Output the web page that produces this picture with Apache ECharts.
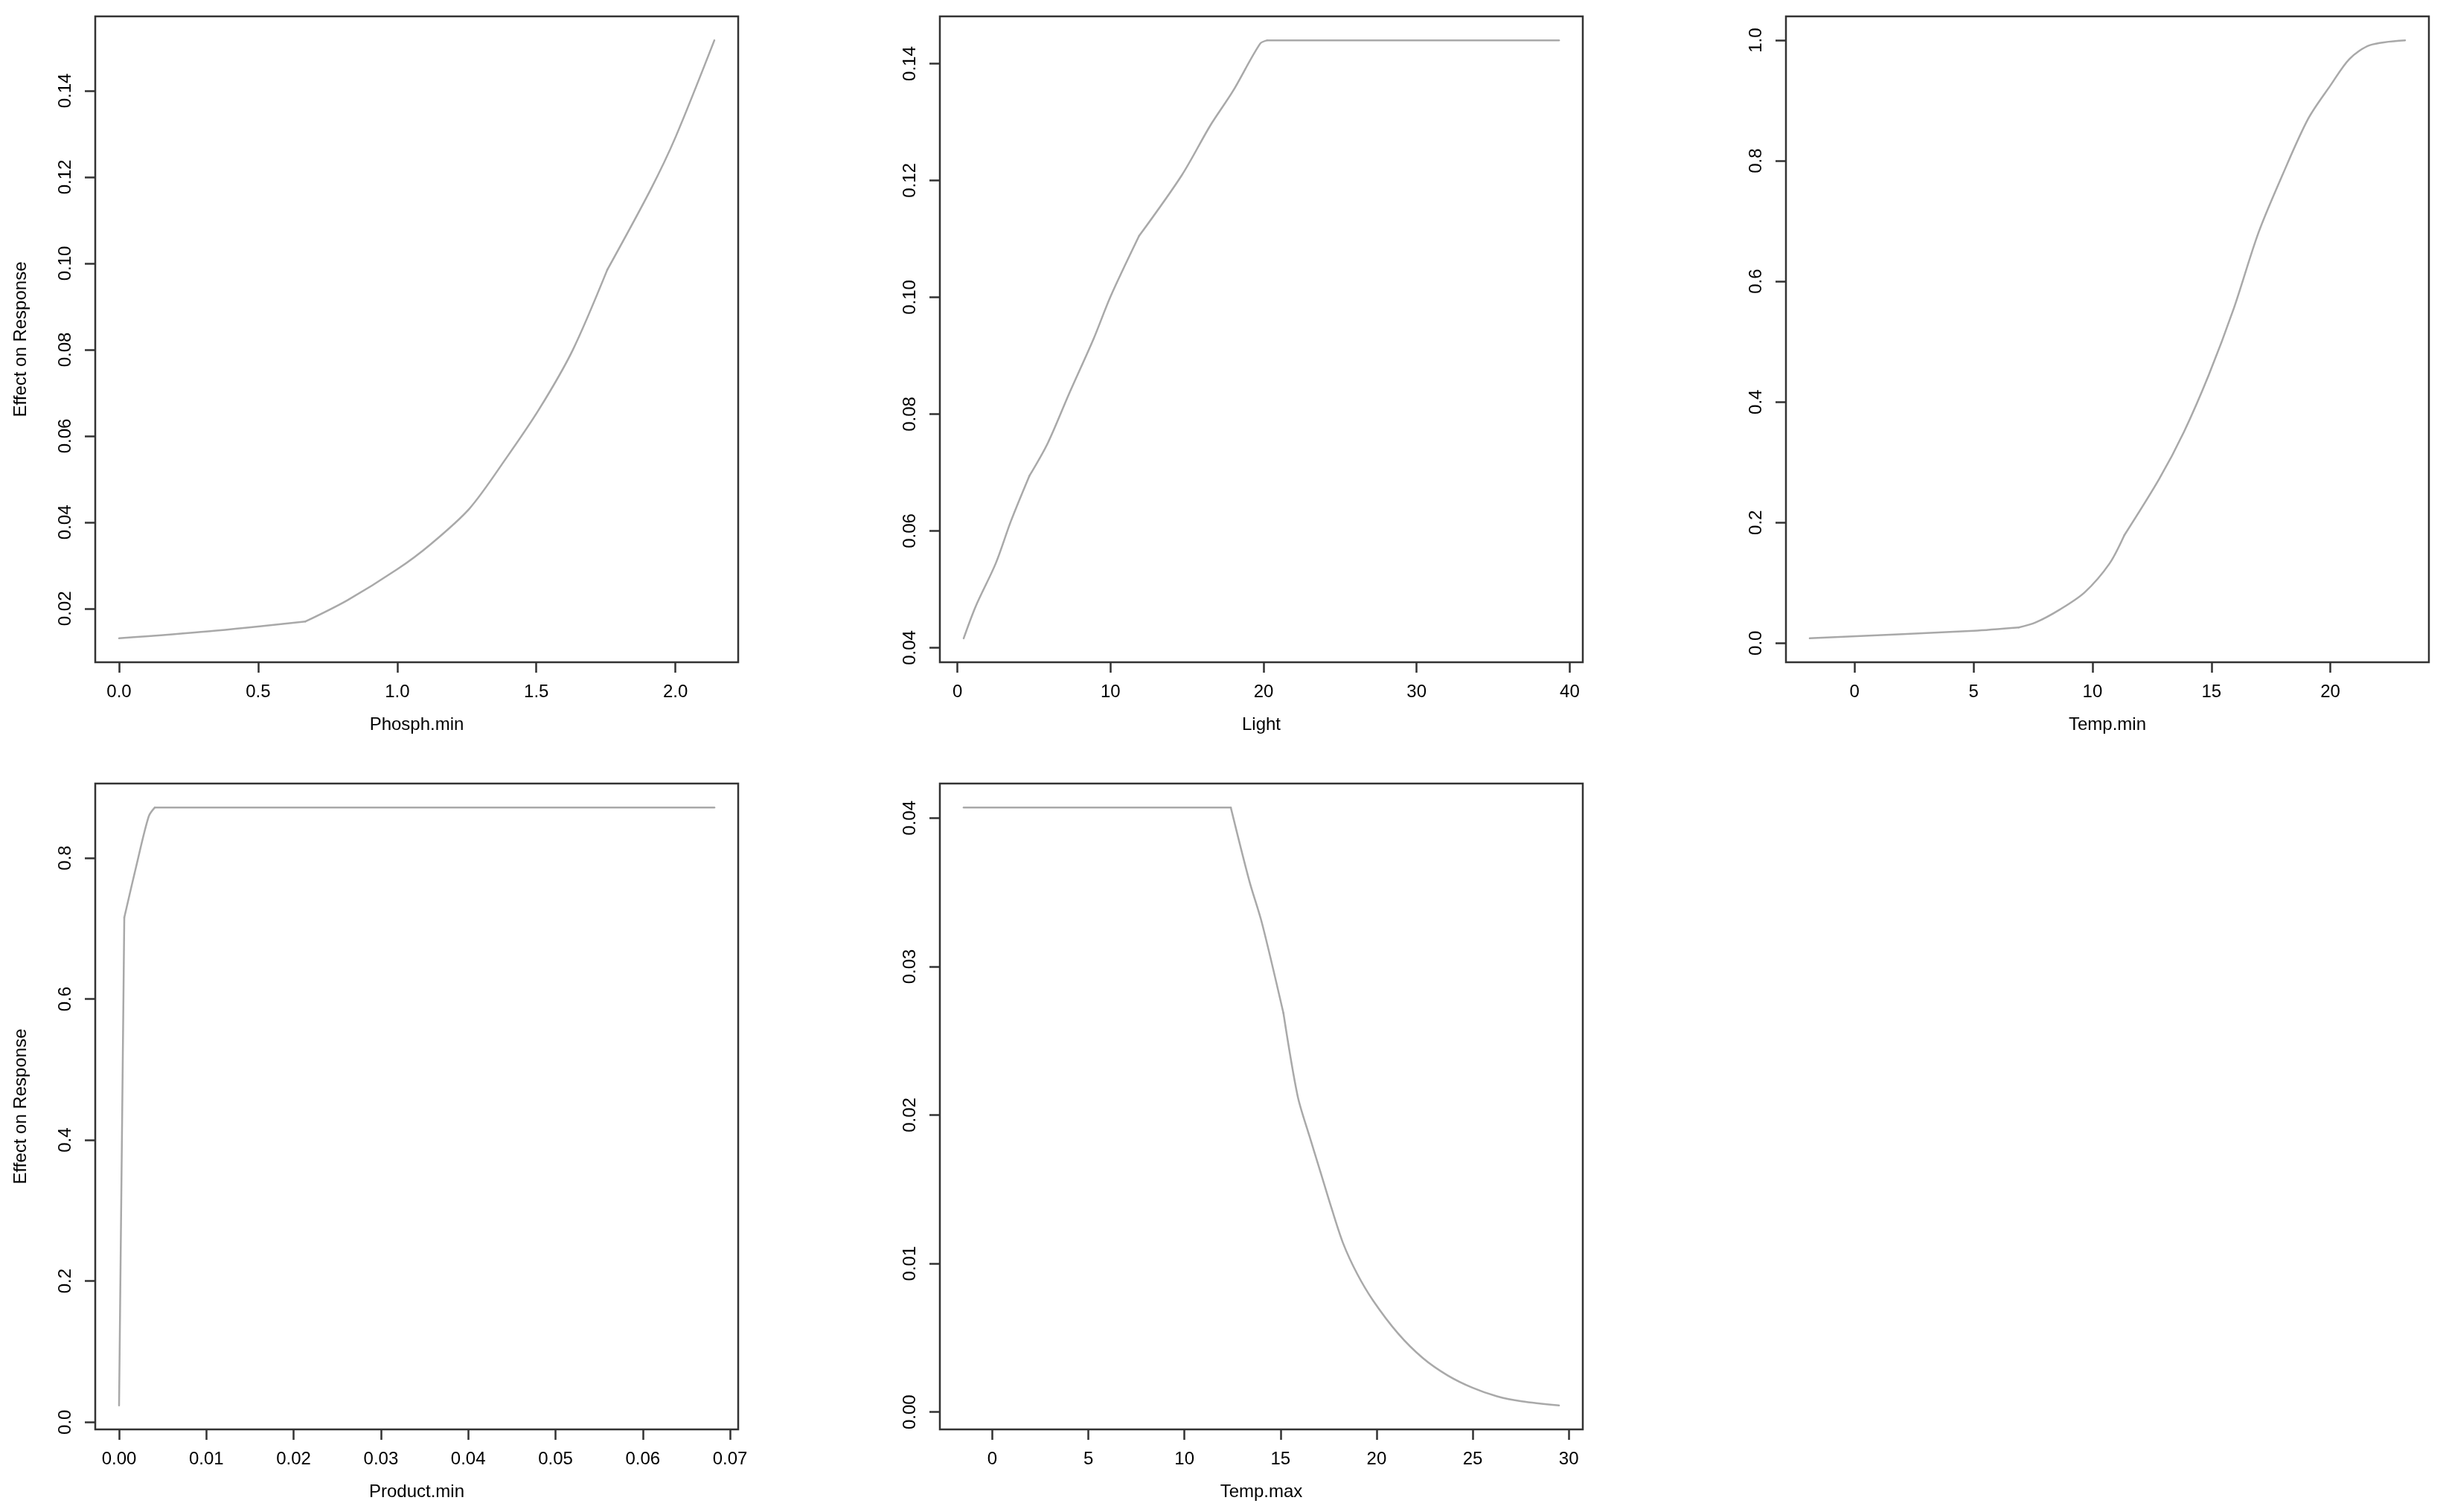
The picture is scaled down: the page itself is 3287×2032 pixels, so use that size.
<!DOCTYPE html>
<html>
<head>
<meta charset="utf-8">
<script src="https://cdn.jsdelivr.net/npm/echarts@6/dist/echarts.min.js"></script>
<style>
html,body{margin:0;padding:0;background:#fff;}
#chart{width:3287px;height:2032px;}
</style>
</head>
<body>
<div id="chart"></div>
<script>
// ---- data ----
const phosphX = [0, 0.32, 0.67, 0.82, 1.0, 1.12, 1.26, 1.39, 1.51, 1.63, 1.755, 1.91, 2.0, 2.14];
const phosphY = [0.0131, 0.0147, 0.0170, 0.0219, 0.0291, 0.0349, 0.0432, 0.0547, 0.0662, 0.0798, 0.0985, 0.1170, 0.1292, 0.1517];

const lightX = [0.41, 1.2, 2.5, 3.5, 4.7, 5.9, 7.3, 8.9, 10.0, 11.87, 14.66, 16.52, 18.0, 19.77, 20.24, 39.3];
const lightY = [0.0416, 0.0471, 0.0544, 0.0617, 0.0694, 0.0750, 0.0835, 0.0929, 0.1001, 0.1105, 0.1209, 0.1294, 0.1353, 0.1434, 0.1440, 0.1440];

const tempMinX = [-1.885, 5.0, 6.9, 7.6, 8.63, 9.67, 10.71, 11.34, 12.8, 13.84, 14.89, 15.93, 16.97, 17.98, 19.07, 20.0, 20.8, 21.67, 23.14];
const tempMinY = [0.0079, 0.0205, 0.026, 0.034, 0.0557, 0.0841, 0.1316, 0.179, 0.272, 0.350, 0.445, 0.554, 0.680, 0.776, 0.870, 0.925, 0.969, 0.992, 1.0];

const productX = [0, 0.0006, 0.0020, 0.0034, 0.0041, 0.0682];
const productY = [0.0236, 0.7155, 0.790, 0.859, 0.8716, 0.8716];

const tempMaxX = [-1.49, 12.41, 13.37, 14.04, 15.15, 15.89, 16.5, 17.07, 17.66, 18.26, 18.99, 19.82, 21.11, 22.40, 23.69, 24.98, 26.26, 27.55, 29.49];
const tempMaxY = [0.04071, 0.04071, 0.03579, 0.03289, 0.02686, 0.02128, 0.0186, 0.0162, 0.0137, 0.01135, 0.0093, 0.0075, 0.0053, 0.00364, 0.00247, 0.00164, 0.00106, 0.00072, 0.00044];

// tick values
const phosphXTicks = [0, 0.5, 1.0, 1.5, 2.0];
const phosphYTicks = [0.02, 0.04, 0.06, 0.08, 0.10, 0.12, 0.14];
const lightXTicks = [0, 10, 20, 30, 40];
const lightYTicks = [0.04, 0.06, 0.08, 0.10, 0.12, 0.14];
const tempMinXTicks = [0, 5, 10, 15, 20];
const tempMinYTicks = [0.0, 0.2, 0.4, 0.6, 0.8, 1.0];
const productXTicks = [0, 0.01, 0.02, 0.03, 0.04, 0.05, 0.06, 0.07];
const productYTicks = [0.0, 0.2, 0.4, 0.6, 0.8];
const tempMaxXTicks = [0, 5, 10, 15, 20, 25, 30];
const tempMaxYTicks = [0.00, 0.01, 0.02, 0.03, 0.04];

const axisTitles = ['Phosph.min', 'Light', 'Temp.min', 'Product.min', 'Temp.max'];
const yTitle = 'Effect on Response';

// ---- layout / style ----
const FONT = 'Liberation Sans, Arial, Helvetica, sans-serif';
const BOX = '#333333';
const LINE = '#a9a9a9';
const W = 864, H = 868;

// "breaks": indices of sharp corners in each curve (pieces in between are drawn smoothed)
const panels = [
  {x: phosphX, y: phosphY, xt: phosphXTicks, yt: phosphYTicks, xd: 1, yd: 2, xname: axisTitles[0], yname: yTitle, left: 128, top: 22, breaks: [2, 10]},
  {x: lightX, y: lightY, xt: lightXTicks, yt: lightYTicks, xd: 0, yd: 2, xname: axisTitles[1], yname: '', left: 1263, top: 22, breaks: [4, 9, 14]},
  {x: tempMinX, y: tempMinY, xt: tempMinXTicks, yt: tempMinYTicks, xd: 0, yd: 1, xname: axisTitles[2], yname: '', left: 2400, top: 22, breaks: [2, 7]},
  {x: productX, y: productY, xt: productXTicks, yt: productYTicks, xd: 2, yd: 1, xname: axisTitles[3], yname: yTitle, left: 128, top: 1053, breaks: [1, 4]},
  {x: tempMaxX, y: tempMaxY, xt: tempMaxXTicks, yt: tempMaxYTicks, xd: 0, yd: 2, xname: axisTitles[4], yname: '', left: 1263, top: 1053, breaks: [1, 4]}
];

function extent(arr) {
  const mn = Math.min.apply(null, arr), mx = Math.max.apply(null, arr);
  const d = (mx - mn) * 0.04;
  return [mn - d, mx + d];
}
function fmt(d) { return function (v) { return Number(v).toFixed(d); }; }

const grid = [], xAxis = [], yAxis = [], series = [];
panels.forEach(function (p, i) {
  grid.push({left: p.left, top: p.top, width: W, height: H, show: true,
             borderColor: BOX, borderWidth: 2.5, backgroundColor: '#fff', containLabel: false});
  const xe = extent(p.x), ye = extent(p.y);
  xAxis.push({
    type: 'value', gridIndex: i, min: xe[0], max: xe[1],
    name: p.xname, nameLocation: 'middle', nameGap: 72,
    nameTextStyle: {fontFamily: FONT, fontSize: 24, color: '#000'},
    axisLine: {show: false, onZero: false},
    splitLine: {show: false},
    axisTick: {show: true, inside: false, length: 14, customValues: p.xt,
               lineStyle: {color: BOX, width: 2.5}},
    axisLabel: {show: true, customValues: p.xt, margin: 28, fontFamily: FONT, fontSize: 24, color: '#000',
                formatter: fmt(p.xd)}
  });
  yAxis.push({
    type: 'value', gridIndex: i, min: ye[0], max: ye[1],
    name: p.yname, nameLocation: 'middle', nameGap: 88,
    nameTextStyle: {fontFamily: FONT, fontSize: 24, color: '#000'},
    axisLine: {show: false, onZero: false},
    splitLine: {show: false},
    axisTick: {show: true, inside: false, length: 14, customValues: p.yt,
               lineStyle: {color: BOX, width: 2.5}},
    axisLabel: {show: true, customValues: p.yt, rotate: 90, margin: 28, fontFamily: FONT, fontSize: 24, color: '#000',
                formatter: fmt(p.yd)}
  });
  const pts = p.x.map(function (v, k) { return [v, p.y[k]]; });
  const cuts = [0].concat(p.breaks, [pts.length - 1]);
  for (let s = 0; s < cuts.length - 1; s++) {
    const piece = pts.slice(cuts[s], cuts[s + 1] + 1);
    series.push({
      type: 'line', xAxisIndex: i, yAxisIndex: i,
      data: piece,
      showSymbol: false, symbol: 'none', smooth: piece.length > 2 ? 0.3 : false,
      lineStyle: {color: LINE, width: 2.5, cap: 'round', join: 'round'},
      animation: false, silent: true
    });
  }
});

const chart = echarts.init(document.getElementById('chart'), null, {renderer: 'canvas'});
chart.setOption({
  backgroundColor: '#ffffff',
  animation: false,
  grid: grid, xAxis: xAxis, yAxis: yAxis, series: series
});
</script>
</body>
</html>
